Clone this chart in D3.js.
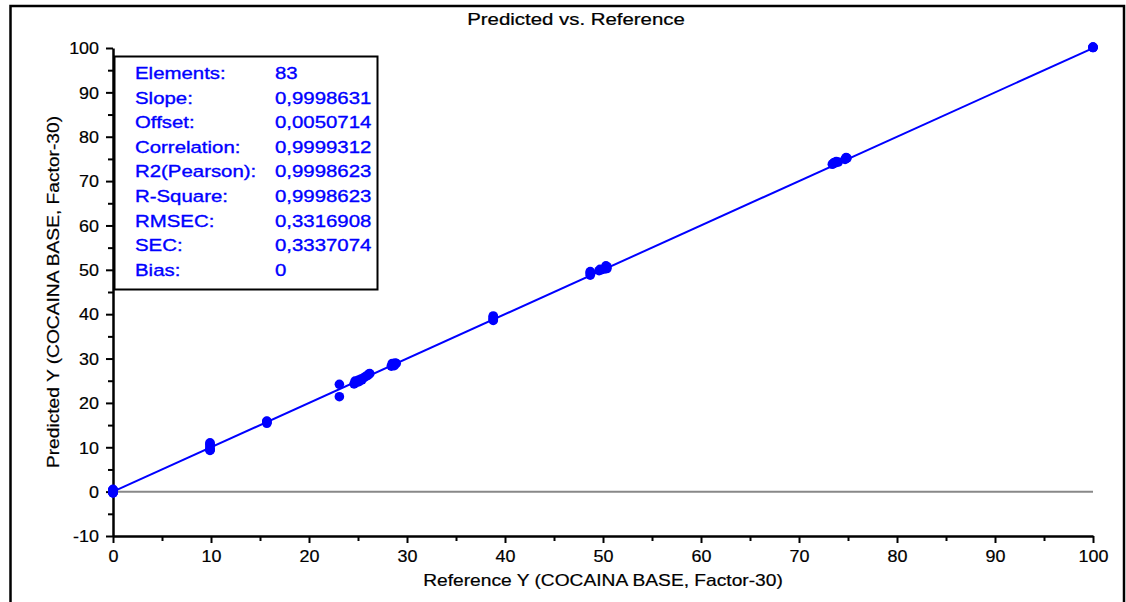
<!DOCTYPE html>
<html>
<head>
<meta charset="utf-8">
<script src="https://cdn.jsdelivr.net/npm/d3@7"></script>
<style>
  html, body { margin: 0; padding: 0; background: #fff; }
  svg { display: block; font-family: "Liberation Sans", Arial, sans-serif; }
</style>
</head>
<body>
<svg id="chart" width="1126" height="602"></svg>
<script>
// Reference vs predicted concentrations (calibration set, 83 samples)
const refY = [
  0, 0, 0, 0, 0, 0, 0, 0, 0, 0, 0, 0, 0, 0, 0, 0, 0, 0,
  9.9, 9.9, 9.9, 9.9, 9.9, 9.9, 9.9, 9.9,
  15.7, 15.7, 15.7, 15.7,
  23.1, 23.1,
  24.6, 24.7, 24.8, 25.0, 25.1, 25.3, 25.4, 25.6, 25.8, 26.0, 26.1, 26.2,
  28.4, 28.5, 28.5, 28.6, 28.7, 28.8, 28.9, 28.7,
  38.8, 38.8, 38.8, 38.8, 38.8,
  48.7, 48.7, 48.7, 48.7,
  49.6, 49.7, 49.8, 50.2, 50.3, 50.4, 50.3, 50.4,
  73.4, 73.5, 73.6, 73.7, 73.8, 74.0,
  74.7, 74.8, 74.8, 74.9,
  100, 100, 100, 100
];
const predY = [
  0.4, 0.2, 0, -0.1, -0.3, 0.1, 0.3, 0, 0.2, -0.2, 0, 0.1, 0.5, -0.1, 0, 0.2, 0.3, -0.3,
  9.3, 9.5, 9.7, 10.2, 10.5, 10.8, 11.0, 9.4,
  15.4, 15.6, 15.8, 15.9,
  21.4, 24.2,
  24.3, 24.9, 24.6, 25.1, 24.8, 25.4, 25.2, 25.7, 26.0, 26.2, 26.5, 26.6,
  28.3, 28.6, 28.9, 28.5, 28.8, 29.0, 28.9, 28.4,
  38.6, 38.8, 39.1, 39.4, 39.6,
  48.8, 49.1, 49.4, 49.6,
  49.8, 50.1, 50.0, 50.2, 50.5, 50.7, 50.9, 50.3,
  73.8, 74.0, 74.2, 74.1, 74.4, 74.3,
  74.9, 75.1, 75.3, 75.2,
  100.1, 100.2, 100.1, 100.2
];

// Regression statistics
const statLabels = ["Elements:", "Slope:", "Offset:", "Correlation:", "R2(Pearson):",
                    "R-Square:", "RMSEC:", "SEC:", "Bias:"];
const statValues = ["83", "0,9998631", "0,0050714", "0,9999312", "0,9998623",
                    "0,9998623", "0,3316908", "0,3337074", "0"];
const slope = 0.9998631;
const offset = 0.0050714;

// Axis ticks
const xTicks = [0, 10, 20, 30, 40, 50, 60, 70, 80, 90, 100];
const yTicks = [-10, 0, 10, 20, 30, 40, 50, 60, 70, 80, 90, 100];
const xMinor = [5, 15, 25, 35, 45, 55, 65, 75, 85, 95];
const yMinor = [-5, 5, 15, 25, 35, 45, 55, 65, 75, 85, 95];

const titleText = "Predicted vs. Reference";
const xLabelText = "Reference Y (COCAINA BASE, Factor-30)";
const yLabelText = "Predicted Y (COCAINA BASE, Factor-30)";

const SX = 1.2;   // horizontal widening of the label font
const SXT = 1.12; // same for the tick numbers
const blue = "#0000ff";

const svg = d3.select("#chart");

const x = d3.scaleLinear().domain([0, 100]).range([113, 1093]);
const y = d3.scaleLinear().domain([-10, 100]).range([536, 48]);

// Outer frame
svg.append("rect")
  .attr("x", 10.5).attr("y", 6).attr("width", 1113.5).attr("height", 640)
  .attr("fill", "none").attr("stroke", "#000").attr("stroke-width", 2.5);

// Title
svg.append("text")
  .attr("transform", `translate(576,25) scale(${SX},1)`)
  .attr("text-anchor", "middle")
  .style("font-size", "17px")
  .attr("fill", "#000").attr("stroke", "#000").attr("stroke-width", 0.25)
  .text(titleText);

// Zero line
svg.append("line")
  .attr("x1", x(0)).attr("x2", x(100))
  .attr("y1", y(0)).attr("y2", y(0))
  .attr("stroke", "#888").attr("stroke-width", 2);

// Axes
const fmt = d => String(d);
const xAxis = svg.append("g")
  .attr("transform", `translate(0,${y(-10)})`)
  .call(d3.axisBottom(x).tickValues(xTicks).tickSize(7).tickSizeOuter(0).tickFormat(fmt));
const xAxisMinor = svg.append("g")
  .attr("transform", `translate(0,${y(-10)})`)
  .call(d3.axisBottom(x).tickValues(xMinor).tickSize(5).tickSizeOuter(0).tickFormat(""));
const yAxis = svg.append("g")
  .attr("transform", `translate(${x(0)},0)`)
  .call(d3.axisLeft(y).tickValues(yTicks).tickSize(7).tickSizeOuter(0).tickFormat(fmt));
const yAxisMinor = svg.append("g")
  .attr("transform", `translate(${x(0)},0)`)
  .call(d3.axisLeft(y).tickValues(yMinor).tickSize(5).tickSizeOuter(0).tickFormat(""));

[xAxis, xAxisMinor, yAxis, yAxisMinor].forEach(g => {
  g.select(".domain").attr("stroke", "#000").attr("stroke-width", 2.5);
  g.selectAll(".tick line").attr("stroke", "#000").attr("stroke-width", 2);
});
xAxisMinor.select(".domain").remove();
yAxisMinor.select(".domain").remove();

xAxis.selectAll(".tick text")
  .attr("y", 0).attr("dy", 0)
  .attr("transform", `translate(0,26) scale(${SXT},1)`)
  .style("font-size", "16px").style("font-family", "'Liberation Sans', Arial, sans-serif")
  .attr("fill", "#000").attr("stroke", "#000").attr("stroke-width", 0.2);
yAxis.selectAll(".tick text")
  .attr("x", 0).attr("dy", "0.36em")
  .attr("transform", `translate(-14,0) scale(${SXT},1)`)
  .style("font-size", "16px").style("font-family", "'Liberation Sans', Arial, sans-serif")
  .attr("fill", "#000").attr("stroke", "#000").attr("stroke-width", 0.2);

// Axis titles
svg.append("text")
  .attr("transform", `translate(603,586) scale(${SX},1)`)
  .attr("text-anchor", "middle")
  .style("font-size", "16px")
  .attr("fill", "#000").attr("stroke", "#000").attr("stroke-width", 0.2)
  .text(xLabelText);
svg.append("text")
  .attr("transform", `translate(59,292) rotate(-90) scale(${SX},1)`)
  .attr("text-anchor", "middle")
  .style("font-size", "16px")
  .attr("fill", "#000").attr("stroke", "#000").attr("stroke-width", 0.2)
  .text(yLabelText);

// Fitted regression line
svg.append("line")
  .attr("x1", x(0)).attr("y1", y(offset))
  .attr("x2", x(100)).attr("y2", y(offset + slope * 100))
  .attr("stroke", blue).attr("stroke-width", 2);

// Samples
const pts = refY.map((r, i) => ({ r, p: predY[i] }));
svg.append("g").selectAll("circle")
  .data(pts)
  .join("circle")
  .attr("cx", d => x(d.r))
  .attr("cy", d => y(d.p))
  .attr("r", 4.8)
  .attr("fill", blue);

// Statistics box
const box = svg.append("g");
box.append("rect")
  .attr("x", 114.5).attr("y", 56.5).attr("width", 263).attr("height", 233)
  .attr("fill", "#fff").attr("stroke", "#000").attr("stroke-width", 2);
const rowY = i => 79 + i * 24.6;
box.selectAll("text.lab")
  .data(statLabels)
  .join("text")
  .attr("class", "lab")
  .attr("transform", (d, i) => `translate(135,${rowY(i)}) scale(${SX},1)`)
  .style("font-size", "17px")
  .attr("fill", blue).attr("stroke", blue).attr("stroke-width", 0.35)
  .text(d => d);
box.selectAll("text.val")
  .data(statValues)
  .join("text")
  .attr("class", "val")
  .attr("transform", (d, i) => `translate(275,${rowY(i)}) scale(${SX},1)`)
  .style("font-size", "17px")
  .attr("fill", blue).attr("stroke", blue).attr("stroke-width", 0.35)
  .text(d => d);
</script>
</body>
</html>
